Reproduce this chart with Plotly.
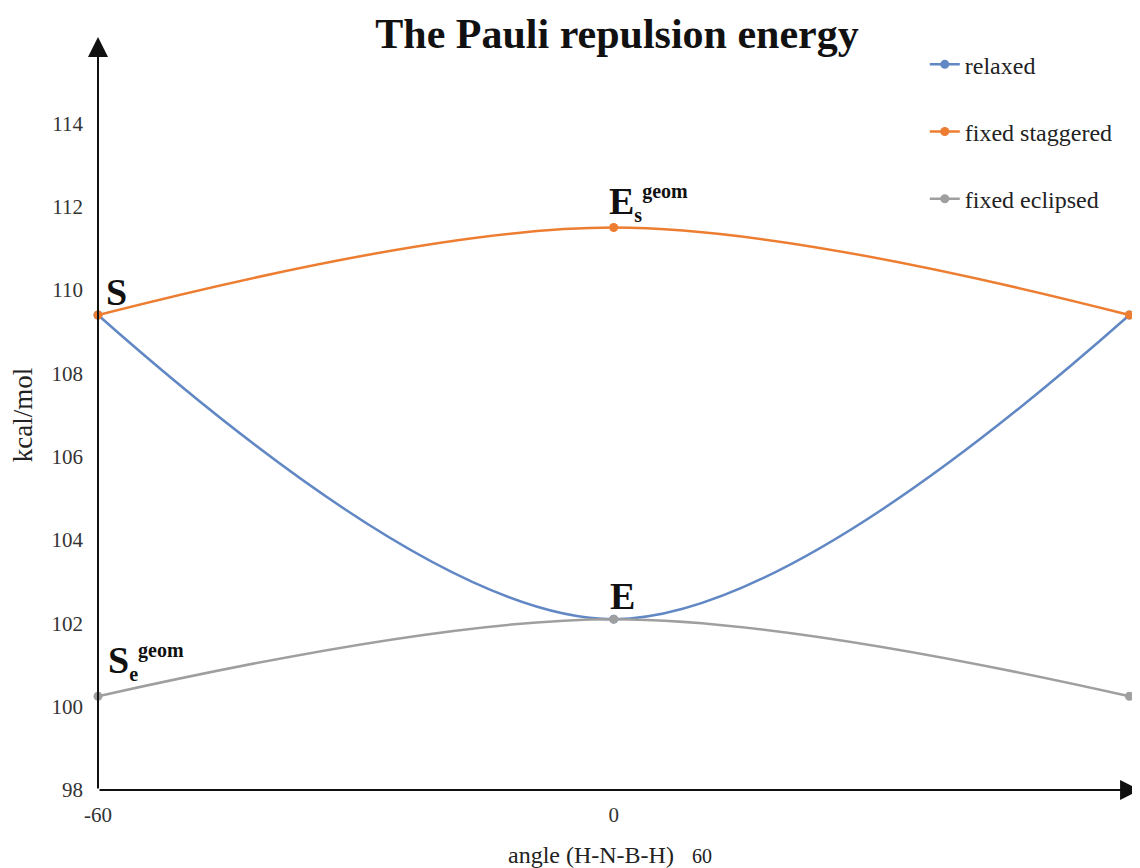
import plotly.graph_objects as go

angles = [-60, 0, 60]
relaxed = [109.4, 102.1, 109.4]
fixed_staggered = [109.4, 111.5, 109.4]
fixed_eclipsed = [100.25, 102.1, 100.25]
y_ticks = [98, 100, 102, 104, 106, 108, 110, 112, 114]
x_ticks = [-60, 0]
x_tick_labels = ["-60", "0"]

SERIF = "Liberation Serif, Times New Roman, serif"

series = [
    ("relaxed", relaxed, "#6188C4"),
    ("fixed staggered", fixed_staggered, "#ED7D31"),
    ("fixed eclipsed", fixed_eclipsed, "#9F9F9F"),
]

fig = go.Figure()
for i, (name, vals, col) in enumerate(series):
    fig.add_trace(go.Scatter(
        x=angles, y=vals, name=name, mode="lines+markers",
        line=dict(color=col, width=2.5, shape="spline", smoothing=1.0),
        marker=dict(color=col, size=9),
        legendgroup=f"g{i}", cliponaxis=False,
    ))

# The page body has an 8px margin, so the figure is 8px smaller than the window
fig.update_layout(
    width=1132, height=860,
    margin=dict(l=90, r=2, t=32, b=78),
    paper_bgcolor="white", plot_bgcolor="white",
    font=dict(family=SERIF, color="#333333"),
    title=dict(text="<b>The Pauli repulsion energy</b>", x=0.538, xanchor="center",
               y=0.971, yanchor="middle", yref="container",
               font=dict(family=SERIF, size=42, color="#111111")),
    legend=dict(x=0.795, y=0.997, xanchor="left", yanchor="top",
                font=dict(family=SERIF, size=24, color="#222222"),
                tracegroupgap=33, bgcolor="rgba(0,0,0,0)"),
    showlegend=True,
)

fig.update_xaxes(range=[-60, 61], tickvals=x_ticks, ticktext=x_tick_labels,
                 showgrid=False, zeroline=False, showline=False,
                 tickfont=dict(family=SERIF, size=21, color="#333333"),
                 ticks="", ticklabelstandoff=10)
fig.update_yaxes(range=[98, 116], tickvals=y_ticks, showgrid=False, zeroline=False,
                 showline=False, tickfont=dict(family=SERIF, size=21, color="#333333"),
                 ticks="", ticklabelstandoff=14,
                 title=dict(text="kcal/mol", font=dict(family=SERIF, size=27, color="#222222"),
                            standoff=18))

# Axis lines with arrowheads
fig.add_annotation(xref="x domain", yref="y domain", x=0, y=1.004, ax=0, ay=0,
                   axref="x domain", ayref="y domain", text="", showarrow=True,
                   arrowhead=2, arrowsize=2.0, arrowwidth=2, arrowcolor="#111111")
fig.add_annotation(xref="x domain", yref="y domain", x=1.002, y=0, ax=0, ay=0,
                   axref="x domain", ayref="y domain", text="", showarrow=True,
                   arrowhead=2, arrowsize=2.0, arrowwidth=2, arrowcolor="#111111")

# x-axis title (with misplaced "60" label as in the reference)
fig.add_annotation(xref="paper", yref="paper", x=0.492, y=-0.0867, yanchor="middle",
                   text="angle (H-N-B-H)&nbsp;&nbsp;&nbsp;<span style='font-size:20px'>60</span>",
                   showarrow=False, font=dict(family=SERIF, size=24, color="#222222"))

lab_font = dict(family=SERIF, size=38, color="#111111")
small = "<span style='font-size:20px'>{}</span>"
fig.add_annotation(x=-57.85, y=109.96, text="<b>S</b>", showarrow=False, font=lab_font)
fig.add_annotation(x=4.07, y=112.1,
                   text="<b>E<sub>" + small.format("s") + "</sub><sup>" + small.format("geom") + "</sup></b>",
                   showarrow=False, font=lab_font)
fig.add_annotation(x=1.05, y=102.66, text="<b>E</b>", showarrow=False, font=lab_font)
fig.add_annotation(x=-54.4, y=101.07,
                   text="<b>S<sub>" + small.format("e") + "</sub><sup>" + small.format("geom") + "</sup></b>",
                   showarrow=False, font=lab_font)

fig.write_html("out.html")
